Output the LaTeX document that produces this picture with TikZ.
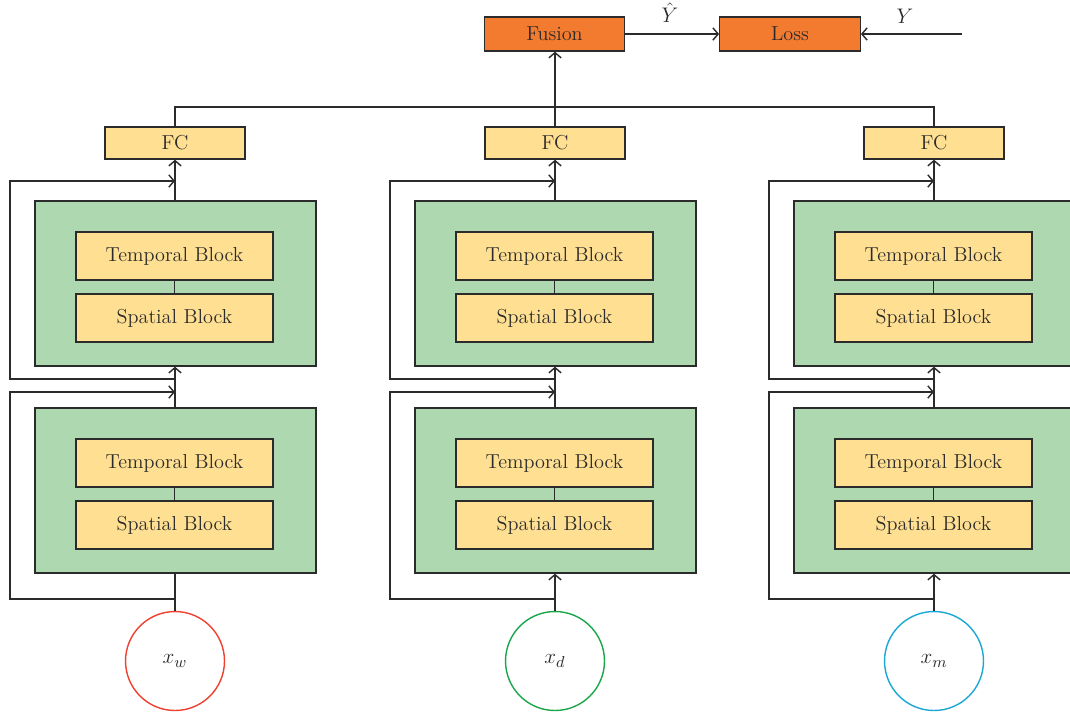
\documentclass[tikz,border=0pt]{standalone}
\usetikzlibrary{arrows.meta}
\definecolor{orng}{HTML}{F37B2F}
\definecolor{ylw}{HTML}{FFDF91}
\definecolor{grn}{HTML}{ADD8B0}
\definecolor{cred}{HTML}{EF4130}
\definecolor{cgrn}{HTML}{1AA64A}
\definecolor{ccyn}{HTML}{1BA8D5}
\definecolor{edge}{HTML}{2B2B2B}
\begin{document}
\begin{tikzpicture}[x=0.02cm,y=-0.02cm,line width=0.8pt,
  every node/.style={font=\fontsize{11.5}{13}\selectfont, text=edge},
  fusionbox/.style={draw=edge,fill=orng,minimum width=2.81cm,minimum height=0.68cm,inner sep=0pt},
  fcbox/.style={draw=edge,fill=ylw,minimum width=2.8cm,minimum height=0.64cm,inner sep=0pt},
  greenbox/.style={draw=edge,fill=grn,minimum width=5.62cm,minimum height=3.3cm,inner sep=0pt},
  blockbox/.style={draw=edge,fill=ylw,minimum width=3.94cm,minimum height=0.96cm,inner sep=0pt},
  inp/.style={circle,draw=#1,minimum size=1.98cm,inner sep=0pt,font=\fontsize{13}{15}\selectfont},
  wire/.style={draw=edge},
  arr/.style={draw=edge,-{Straight Barb[length=3pt,width=7pt]}},
  lbl/.style={inner sep=0pt,font=\fontsize{13}{15}\selectfont}]
\clip (0,0) rectangle (1070,714);
\fill[white] (0,0) rectangle (1070,714);
% top
\node[fusionbox] (fusion) at (554.5,34) {Fusion};
\node[fusionbox] (loss) at (790,34) {Loss};
\node[lbl] (yhat) at (670,13) {$\hat{Y}$};
\node[lbl] (ylab) at (905,16) {$Y$};
\coordinate (yin) at (962,34);
\draw[arr] (fusion) -- (loss);
\draw[arr] (yin) -- (loss);
% columns
\foreach \cx/\n/\col/\st in {175/w/cred/wire, 555/d/cgrn/arr, 934/m/ccyn/arr}{
  \node[inp=\col] (x\n) at (\cx,661) {$x_{\n}$};
  \node[greenbox] (gl\n) at (\cx+0.5,490.5) {};
  \node[greenbox] (gu\n) at (\cx+0.5,283.5) {};
  \node[blockbox] (tu\n) at (\cx-0.5,256) {Temporal Block};
  \node[blockbox] (su\n) at (\cx-0.5,318) {Spatial Block};
  \node[blockbox] (tl\n) at (\cx-0.5,463) {Temporal Block};
  \node[blockbox] (sl\n) at (\cx-0.5,525) {Spatial Block};
  \node[fcbox] (fc\n) at (\cx,143) {FC};
  \draw[wire] (tu\n) -- (su\n);
  \draw[wire] (tl\n) -- (sl\n);
  \draw[\st] (x\n.north) -- (x\n.north |- gl\n.south);
  \draw[arr] (x\n.north |- gl\n.north) -- (x\n.north |- gu\n.south);
  \draw[arr] (x\n.north |- gu\n.north) -- (fc\n.south);
  \coordinate (a\n) at (\cx,599);
  \coordinate (la\n) at (\cx-165,599);
  \coordinate (lb\n) at (\cx-165,392);
  \coordinate (b\n) at (\cx,392);
  \draw[arr] (a\n) -- (la\n) -- (lb\n) -- (b\n);
  \coordinate (c\n) at (\cx,379);
  \coordinate (lc\n) at (\cx-165,379);
  \coordinate (ld\n) at (\cx-165,181);
  \coordinate (d\n) at (\cx,181);
  \draw[arr] (c\n) -- (lc\n) -- (ld\n) -- (d\n);
  \coordinate (t\n) at (\cx,107);
}
\draw[wire] (fcw.north) -- (tw) -- (tm) -- (fcm.north);
\draw[arr] (fcd.north) -- (fcd.north |- fusion.south);
\end{tikzpicture}
\end{document}
